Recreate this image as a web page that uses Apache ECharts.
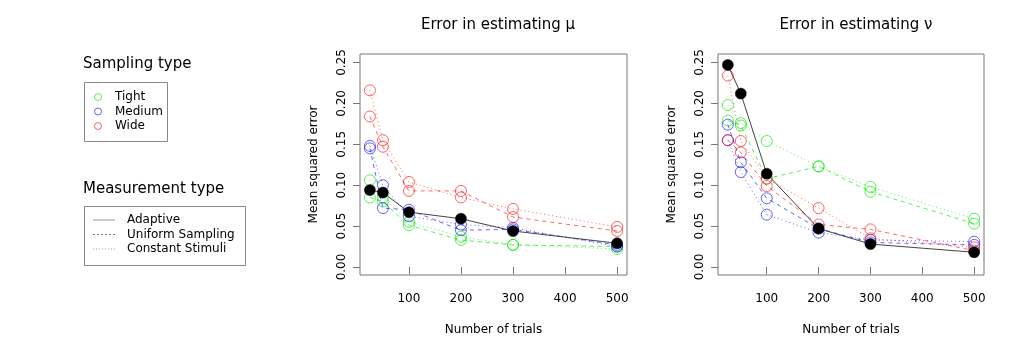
<!DOCTYPE html>
<html>
<head>
<meta charset="utf-8">
<script src="https://cdn.jsdelivr.net/npm/echarts@6/dist/echarts.min.js"></script>
<style>
  html, body { margin: 0; padding: 0; background: #fff; }
  #main { width: 1018px; height: 357px; }
</style>
</head>
<body>
<div id="main"></div>
<script>
var trials = [25, 50, 100, 200, 300, 500];
var xTicks = [100, 200, 300, 400, 500];
var yTicks = [0, 0.05, 0.1, 0.15, 0.2, 0.25];

// error in estimating mu
var muAdaptive = [0.094, 0.091, 0.067, 0.059, 0.044, 0.029];
var muTightUniform = [0.085, 0.080, 0.051, 0.033, 0.027, 0.025];
var muTightConstant = [0.106, 0.085, 0.055, 0.037, 0.027, 0.022];
var muMediumUniform = [0.145, 0.072, 0.070, 0.045, 0.046, 0.027];
var muMediumConstant = [0.148, 0.100, 0.062, 0.052, 0.048, 0.025];
var muWideUniform = [0.184, 0.147, 0.093, 0.093, 0.061, 0.044];
var muWideConstant = [0.216, 0.155, 0.104, 0.085, 0.071, 0.049];

// error in estimating nu
var nuAdaptive = [0.247, 0.212, 0.114, 0.047, 0.028, 0.018];
var nuTightUniform = [0.179, 0.173, 0.108, 0.123, 0.092, 0.053];
var nuTightConstant = [0.198, 0.176, 0.154, 0.123, 0.098, 0.059];
var nuMediumUniform = [0.174, 0.128, 0.084, 0.047, 0.030, 0.027];
var nuMediumConstant = [0.155, 0.116, 0.064, 0.042, 0.033, 0.031];
var nuWideUniform = [0.155, 0.140, 0.099, 0.052, 0.046, 0.020];
var nuWideConstant = [0.234, 0.154, 0.108, 0.072, 0.035, 0.024];

var green = 'rgba(0,230,0,0.65)';
var blue = 'rgba(0,0,255,0.6)';
var red = 'rgba(255,0,0,0.6)';
var font = 'DejaVu Sans';

function pairs(vals) {
  return trials.map(function (t, i) { return [t, vals[i]]; });
}

function line(idx, vals, color, dash) {
  return {
    type: 'line',
    xAxisIndex: idx,
    yAxisIndex: idx,
    data: pairs(vals),
    symbol: 'circle',
    symbolSize: 11,
    showSymbol: true,
    animation: false,
    silent: true,
    lineStyle: { color: color, width: 1, type: dash },
    itemStyle: { color: 'rgba(0,0,0,0)', borderColor: color, borderWidth: 1 }
  };
}

function adaptive(idx, vals) {
  return {
    type: 'line',
    xAxisIndex: idx,
    yAxisIndex: idx,
    data: pairs(vals),
    symbol: 'circle',
    symbolSize: 11,
    animation: false,
    silent: true,
    z: 3,
    lineStyle: { color: '#444', width: 1 },
    itemStyle: { color: '#000', borderColor: '#000', borderWidth: 0.5 }
  };
}

function panelSeries(idx, d) {
  return [
    line(idx, d[1], green, [4, 4]),
    line(idx, d[2], green, [1, 3]),
    line(idx, d[3], blue, [4, 4]),
    line(idx, d[4], blue, [1, 3]),
    line(idx, d[5], red, [4, 4]),
    line(idx, d[6], red, [1, 3]),
    adaptive(idx, d[0])
  ];
}

function xAxis(idx) {
  return {
    type: 'value',
    gridIndex: idx,
    min: 6,
    max: 519,
    name: 'Number of trials',
    nameLocation: 'middle',
    nameGap: 49,
    nameTextStyle: { fontFamily: font, fontSize: 12, color: '#000' },
    axisLine: { show: false },
    splitLine: { show: false },
    axisTick: { show: true, length: 7, customValues: xTicks, lineStyle: { color: '#777' } },
    axisLabel: { customValues: xTicks, margin: 18, fontFamily: font, fontSize: 12, color: '#000' }
  };
}

function yAxis(idx) {
  return {
    type: 'value',
    gridIndex: idx,
    min: -0.0098,
    max: 0.2604,
    name: 'Mean squared error',
    nameLocation: 'middle',
    nameRotate: 90,
    nameGap: 40,
    nameTextStyle: { fontFamily: font, fontSize: 12, color: '#000' },
    axisLine: { show: false },
    splitLine: { show: false },
    axisTick: { show: true, length: 7, customValues: yTicks, lineStyle: { color: '#777' } },
    axisLabel: {
      customValues: yTicks,
      rotate: 90,
      margin: 12,
      fontFamily: font,
      fontSize: 12,
      color: '#000',
      formatter: function (v) { return v.toFixed(2); }
    }
  };
}

function txt(x, y, s, size) {
  return {
    type: 'text',
    style: { x: x, y: y, text: s, fontFamily: font, fontSize: size, fill: '#000', verticalAlign: 'middle' }
  };
}

var legendGraphics = [
  txt(83, 64, 'Sampling type', 15),
  { type: 'rect', shape: { x: 84.5, y: 82.5, width: 83, height: 59 }, style: { fill: 'none', stroke: '#888', lineWidth: 1 } },
  { type: 'circle', shape: { cx: 98, cy: 97, r: 3.5 }, style: { fill: 'none', stroke: green } },
  { type: 'circle', shape: { cx: 98, cy: 111.5, r: 3.5 }, style: { fill: 'none', stroke: blue } },
  { type: 'circle', shape: { cx: 98, cy: 126, r: 3.5 }, style: { fill: 'none', stroke: red } },
  txt(115, 97, 'Tight', 12),
  txt(115, 111.5, 'Medium', 12),
  txt(115, 126, 'Wide', 12),
  txt(83, 189, 'Measurement type', 15),
  { type: 'rect', shape: { x: 84.5, y: 206.5, width: 161, height: 59 }, style: { fill: 'none', stroke: '#888', lineWidth: 1 } },
  { type: 'line', shape: { x1: 93, y1: 220, x2: 115, y2: 220 }, style: { stroke: '#999', lineWidth: 1 } },
  { type: 'line', shape: { x1: 93, y1: 234.5, x2: 115, y2: 234.5 }, style: { stroke: '#777', lineWidth: 1, lineDash: [2, 2] } },
  { type: 'line', shape: { x1: 93, y1: 249, x2: 115, y2: 249 }, style: { stroke: '#999', lineWidth: 1, lineDash: [1, 2] } },
  txt(127, 220, 'Adaptive', 12),
  txt(127, 234.5, 'Uniform Sampling', 12),
  txt(127, 249, 'Constant Stimuli', 12)
];

var chart = echarts.init(document.getElementById('main'));
chart.setOption({
  animation: false,
  backgroundColor: '#fff',
  title: [
    { text: 'Error in estimating \u03bc', left: 493, top: 13, textAlign: 'center',
      textStyle: { fontFamily: font, fontSize: 15, fontWeight: 'normal', color: '#000' } },
    { text: 'Error in estimating \u03bd', left: 851, top: 13, textAlign: 'center',
      textStyle: { fontFamily: font, fontSize: 15, fontWeight: 'normal', color: '#000' } }
  ],
  grid: [
    { left: 360, top: 54, width: 267, height: 221, show: true, borderColor: '#777', borderWidth: 1, backgroundColor: 'transparent' },
    { left: 718, top: 54, width: 266, height: 221, show: true, borderColor: '#777', borderWidth: 1, backgroundColor: 'transparent' }
  ],
  xAxis: [xAxis(0), xAxis(1)],
  yAxis: [yAxis(0), yAxis(1)],
  graphic: legendGraphics,
  series: panelSeries(0, [muAdaptive, muTightUniform, muTightConstant, muMediumUniform, muMediumConstant, muWideUniform, muWideConstant])
    .concat(panelSeries(1, [nuAdaptive, nuTightUniform, nuTightConstant, nuMediumUniform, nuMediumConstant, nuWideUniform, nuWideConstant]))
});
</script>
</body>
</html>
